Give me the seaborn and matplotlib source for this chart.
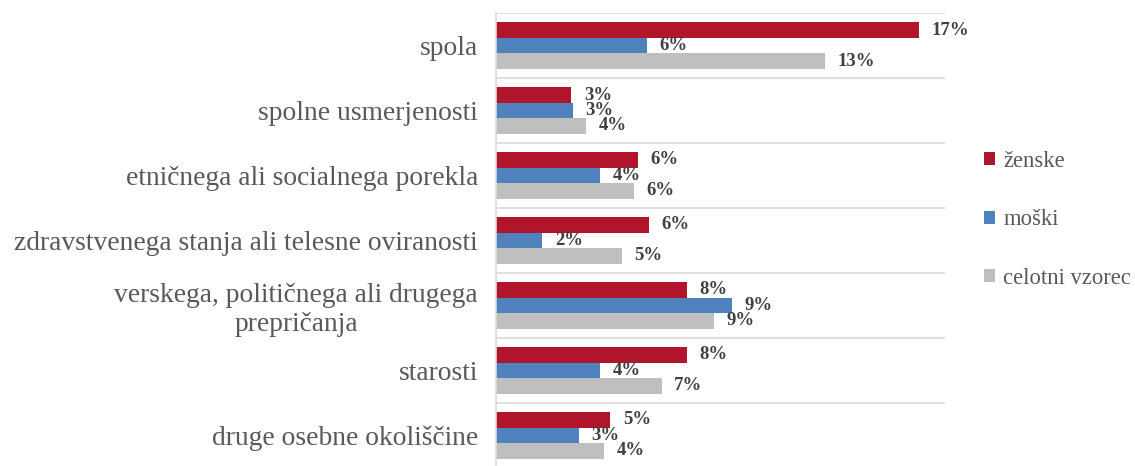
import numpy as np
import matplotlib.pyplot as plt
import pandas as pd
import seaborn as sns

# data (share of respondents, %)
categories = ['spola', 'spolne usmerjenosti', 'etničnega ali socialnega porekla',
              'zdravstvenega stanja ali telesne oviranosti',
              'verskega, političnega ali drugega\nprepričanja', 'starosti',
              'druge osebne okoliščine']
series = ['ženske', 'moški', 'celotni vzorec']
zenske = [16.85, 3.0, 5.65, 6.1, 7.6, 7.6, 4.55]
moski = [6.0, 3.07, 4.15, 1.85, 9.4, 4.15, 3.3]
celotni = [13.1, 3.6, 5.5, 5.0, 8.7, 6.6, 4.3]
colors = ['#B0152B', '#4F81BD', '#BFBFBF']

df = pd.DataFrame({
    'kategorija': categories * 3,
    'serija': np.repeat(series, len(categories)),
    'vrednost': zenske + moski + celotni,
})

sns.set_style('white')
plt.rcParams['font.family'] = ['Liberation Serif', 'DejaVu Serif']

fig = plt.figure(figsize=(11.35, 4.66), dpi=100)
ax = fig.add_axes([0.437, -0.004, 0.396, 0.976])

sns.barplot(data=df, y='kategorija', x='vrednost', hue='serija', orient='h',
            palette=colors, width=0.715, saturation=1, linewidth=0, ax=ax, legend=True)

for cont, vals in zip(ax.containers, [zenske, moski, celotni]):
    ax.bar_label(cont, labels=[f'{v:.0f}%' for v in vals], padding=9,
                 fontsize=13.5, fontweight='bold', color='#404040')

ax.set_xlim(0, 17.9)
ax.set_xlabel('')
ax.set_ylabel('')
ax.set_xticks([])
ax.set_yticks(np.arange(-0.5, len(categories)), minor=True)
ax.grid(which='minor', axis='y', color='#D9D9D9', linewidth=1.2)
ax.tick_params(axis='y', which='both', length=0, pad=13, labelsize=19.8,
               labelcolor='#595959')
for lab in ax.get_yticklabels():
    lab.set_multialignment('center')
    lab.set_linespacing(1.18)
for s in ['top', 'right', 'bottom']:
    ax.spines[s].set_visible(False)
ax.spines['left'].set_color('#D9D9D9')
ax.spines['left'].set_linewidth(1.2)

ax.legend(loc='upper left', bbox_to_anchor=(0.849, 0.72), bbox_transform=fig.transFigure,
          frameon=False, fontsize=16.3, labelcolor='#595959', handlelength=0.5,
          handleheight=0.5, handletextpad=0.35, labelspacing=1.65)

fig.savefig('out.png', dpi=100)
